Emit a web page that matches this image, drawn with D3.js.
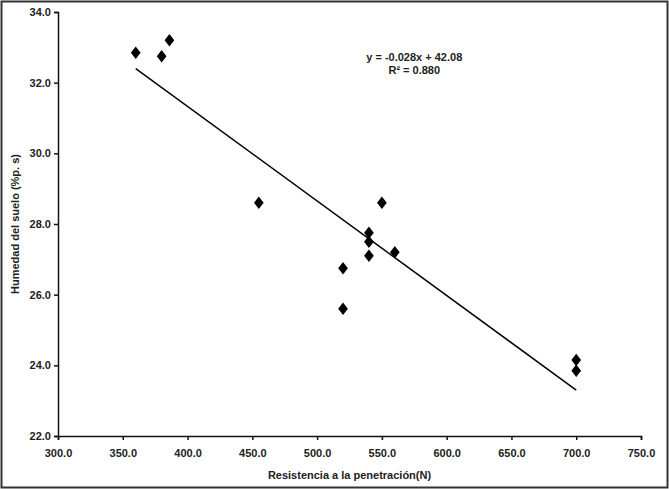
<!DOCTYPE html>
<html><head><meta charset="utf-8">
<script src="https://cdn.jsdelivr.net/npm/d3@7"></script>
<style>body{margin:0;background:#fff}svg{display:block}text{font-family:"Liberation Sans",Arial,sans-serif;font-weight:bold;fill:#222}</style>
</head><body><svg id="c" width="669" height="489"></svg>
<script>
const xVals=[360,380,386,455,520,520,540,540,540,550,560,700,700];
const yVals=[32.85,32.75,33.2,28.6,26.75,25.6,27.75,27.5,27.1,28.6,27.2,24.15,23.85];
const trendX=[360,700];
const trendY=[32.4,23.3];
const xTicks=[300,350,400,450,500,550,600,650,700,750];
const yTicks=[22,24,26,28,30,32,34];
const eqText=["y = -0.028x + 42.08","R² = 0.880"];

const svg=d3.select("#c");
svg.append("rect").attr("x",1.5).attr("y",1.5).attr("width",666).attr("height",486).attr("fill","none").attr("stroke","#333").attr("stroke-width",2);
const L=58,R=641,T=12,B=436;
const x=d3.scaleLinear().domain([300,750]).range([L,R]);
const y=d3.scaleLinear().domain([22,34]).range([B,T]);
const xa=svg.append("g").attr("transform",`translate(0,${B})`).call(d3.axisBottom(x).tickValues(xTicks).tickFormat(d3.format(".1f")).tickSize(4));
const ya=svg.append("g").attr("transform",`translate(${L},0)`).call(d3.axisLeft(y).tickValues(yTicks).tickFormat(d3.format(".1f")).tickSize(4));
[xa,ya].forEach(g=>{g.select(".domain").attr("stroke","#111").attr("stroke-width",1.5);g.selectAll("line").attr("stroke","#111").attr("stroke-width",1.5);g.selectAll("text").style("font-size","11px").style("font-weight","bold").attr("fill","#222");});
xa.selectAll("text").attr("dy","1.3em");
svg.append("path").datum(trendX.map((v,i)=>[v,trendY[i]])).attr("d",d3.line().x(d=>x(d[0])).y(d=>y(d[1]))).attr("stroke","#000").attr("stroke-width",1.5).attr("fill","none");
svg.append("g").selectAll("path").data(xVals.map((v,i)=>[v,yVals[i]])).join("path")
 .attr("d",d3.symbol(d3.symbolDiamond,45)).attr("transform",d=>`translate(${x(d[0])},${y(d[1])}) scale(1.35,1)`).attr("fill","#000");
svg.append("text").attr("x",x(575)).attr("y",y(32.6)).attr("text-anchor","middle").style("font-size","11px").text(eqText[0]);
svg.append("text").attr("x",x(575)).attr("y",y(32.25)).attr("text-anchor","middle").style("font-size","11px").text(eqText[1]);
svg.append("text").attr("x",(L+R)/2).attr("y",479).attr("text-anchor","middle").style("font-size","11px").text("Resistencia a la penetración(N)");
svg.append("text").attr("transform",`translate(19,${(T+B)/2}) rotate(-90)`).attr("text-anchor","middle").style("font-size","11px").text("Humedad del suelo (%p. s)");
</script></body></html>
